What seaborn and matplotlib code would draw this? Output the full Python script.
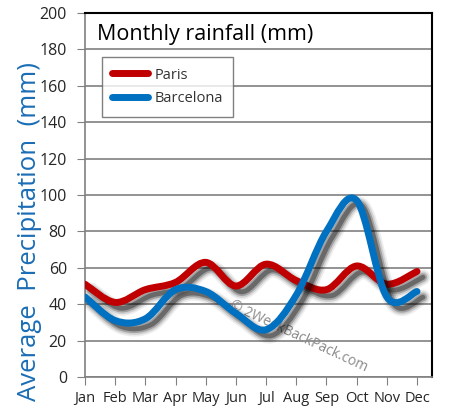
import numpy as np
import matplotlib
matplotlib.use("Agg")
import matplotlib.pyplot as plt
import matplotlib.patheffects as pe
from matplotlib.path import Path
from matplotlib.patches import PathPatch
from matplotlib.lines import Line2D
import seaborn as sns

months = ["Jan", "Feb", "Mar", "Apr", "May", "Jun", "Jul", "Aug", "Sep", "Oct", "Nov", "Dec"]
paris = [51, 41, 48, 52, 63, 50, 62, 53, 48, 61, 51, 58]
barcelona = [44, 31, 32, 48, 47, 35, 26, 45, 80, 97, 44, 47]
cities = ["Paris", "Barcelona"]
colors = ["#c00000", "#0070c0"]

sns.set_style("white")
plt.rcParams['font.family'] = ['Open Sans', 'DejaVu Sans']


def smooth_path(ys):
	# excel style smoothed line: bezier segments with catmull-rom control points
	xs = np.arange(len(ys), dtype=float)
	pts = np.column_stack([xs, np.asarray(ys, dtype=float)])
	verts = [pts[0]]
	codes = [Path.MOVETO]
	n = len(pts)
	for i in range(n - 1):
		p0 = pts[max(i - 1, 0)]
		p1 = pts[i]
		p2 = pts[i + 1]
		p3 = pts[min(i + 2, n - 1)]
		verts += [p1 + (p2 - p0) / 6.0, p2 - (p3 - p1) / 6.0, p2]
		codes += [Path.CURVE4] * 3
	return Path(verts, codes)


off = (4.2, -4.2)
shadow = [
	pe.SimpleLineShadow(offset=off, shadow_color="k", alpha=0.07, linewidth=11),
	pe.SimpleLineShadow(offset=off, shadow_color="k", alpha=0.12, linewidth=8.5),
	pe.SimpleLineShadow(offset=off, shadow_color="k", alpha=0.22, linewidth=6),
	pe.SimpleLineShadow(offset=off, shadow_color="k", alpha=0.35, linewidth=3.5),
	pe.Normal(),
]

fig = plt.figure(figsize=(4.52, 4.18), dpi=100)
ax = fig.add_axes([0.188, 0.098, 0.768, 0.871])

for vals, col in zip([paris, barcelona], colors):
	patch = PathPatch(smooth_path(vals), fill=False, edgecolor=col, lw=5,
		capstyle="round", joinstyle="round", zorder=3)
	patch.set_path_effects(shadow)
	ax.add_patch(patch)

ax.set_xlim(0, 11.5)
ax.set_ylim(0, 200)
ax.set_xticks(np.arange(len(months)))
ax.set_xticklabels(months, fontsize=10.5)
ax.set_yticks(np.arange(0, 201, 20))
ax.tick_params(axis="y", labelsize=11.5, length=6, color="#808080", direction="out", left=True, pad=7)
ax.tick_params(axis="x", length=6, color="#808080", direction="out", bottom=True, pad=4)
ax.yaxis.grid(True, color="#808080", lw=1.2)
ax.set_axisbelow(True)
for s in ["left", "bottom"]:
	ax.spines[s].set_color("#808080")
	ax.spines[s].set_linewidth(1.2)
for s in ["right", "top"]:
	ax.spines[s].set_color("black")
	ax.spines[s].set_linewidth(1.5)

ax.set_ylabel("Average  Precipitation  (mm)", fontsize=18.5, color="#1a6db5")
ax.yaxis.set_label_coords(-0.125, 0.40)

ax.text(0.035, 0.925, "Monthly rainfall (mm)", transform=ax.transAxes, fontsize=15.5, color="black", va="baseline")

handles = [Line2D([], [], color=c, lw=5, solid_capstyle="round") for c in colors]
leg = ax.legend(handles, cities, loc="upper left", bbox_to_anchor=(0.048, 0.878), fontsize=10.5,
	frameon=True, fancybox=False, edgecolor="#606060", handlelength=2.5, borderpad=0.7,
	labelspacing=0.6, handletextpad=0.4, borderaxespad=0)
leg.get_frame().set_linewidth(1.0)
for t in leg.get_texts():
	t.set_color("#333333")

ax.text(0.615, 0.11, "\u00a9 2WeekBackPack.com", transform=ax.transAxes, fontsize=10, color="#8a8a8a",
	rotation=-25, ha="center", va="center", zorder=2)

fig.savefig("out.png", dpi=100)
